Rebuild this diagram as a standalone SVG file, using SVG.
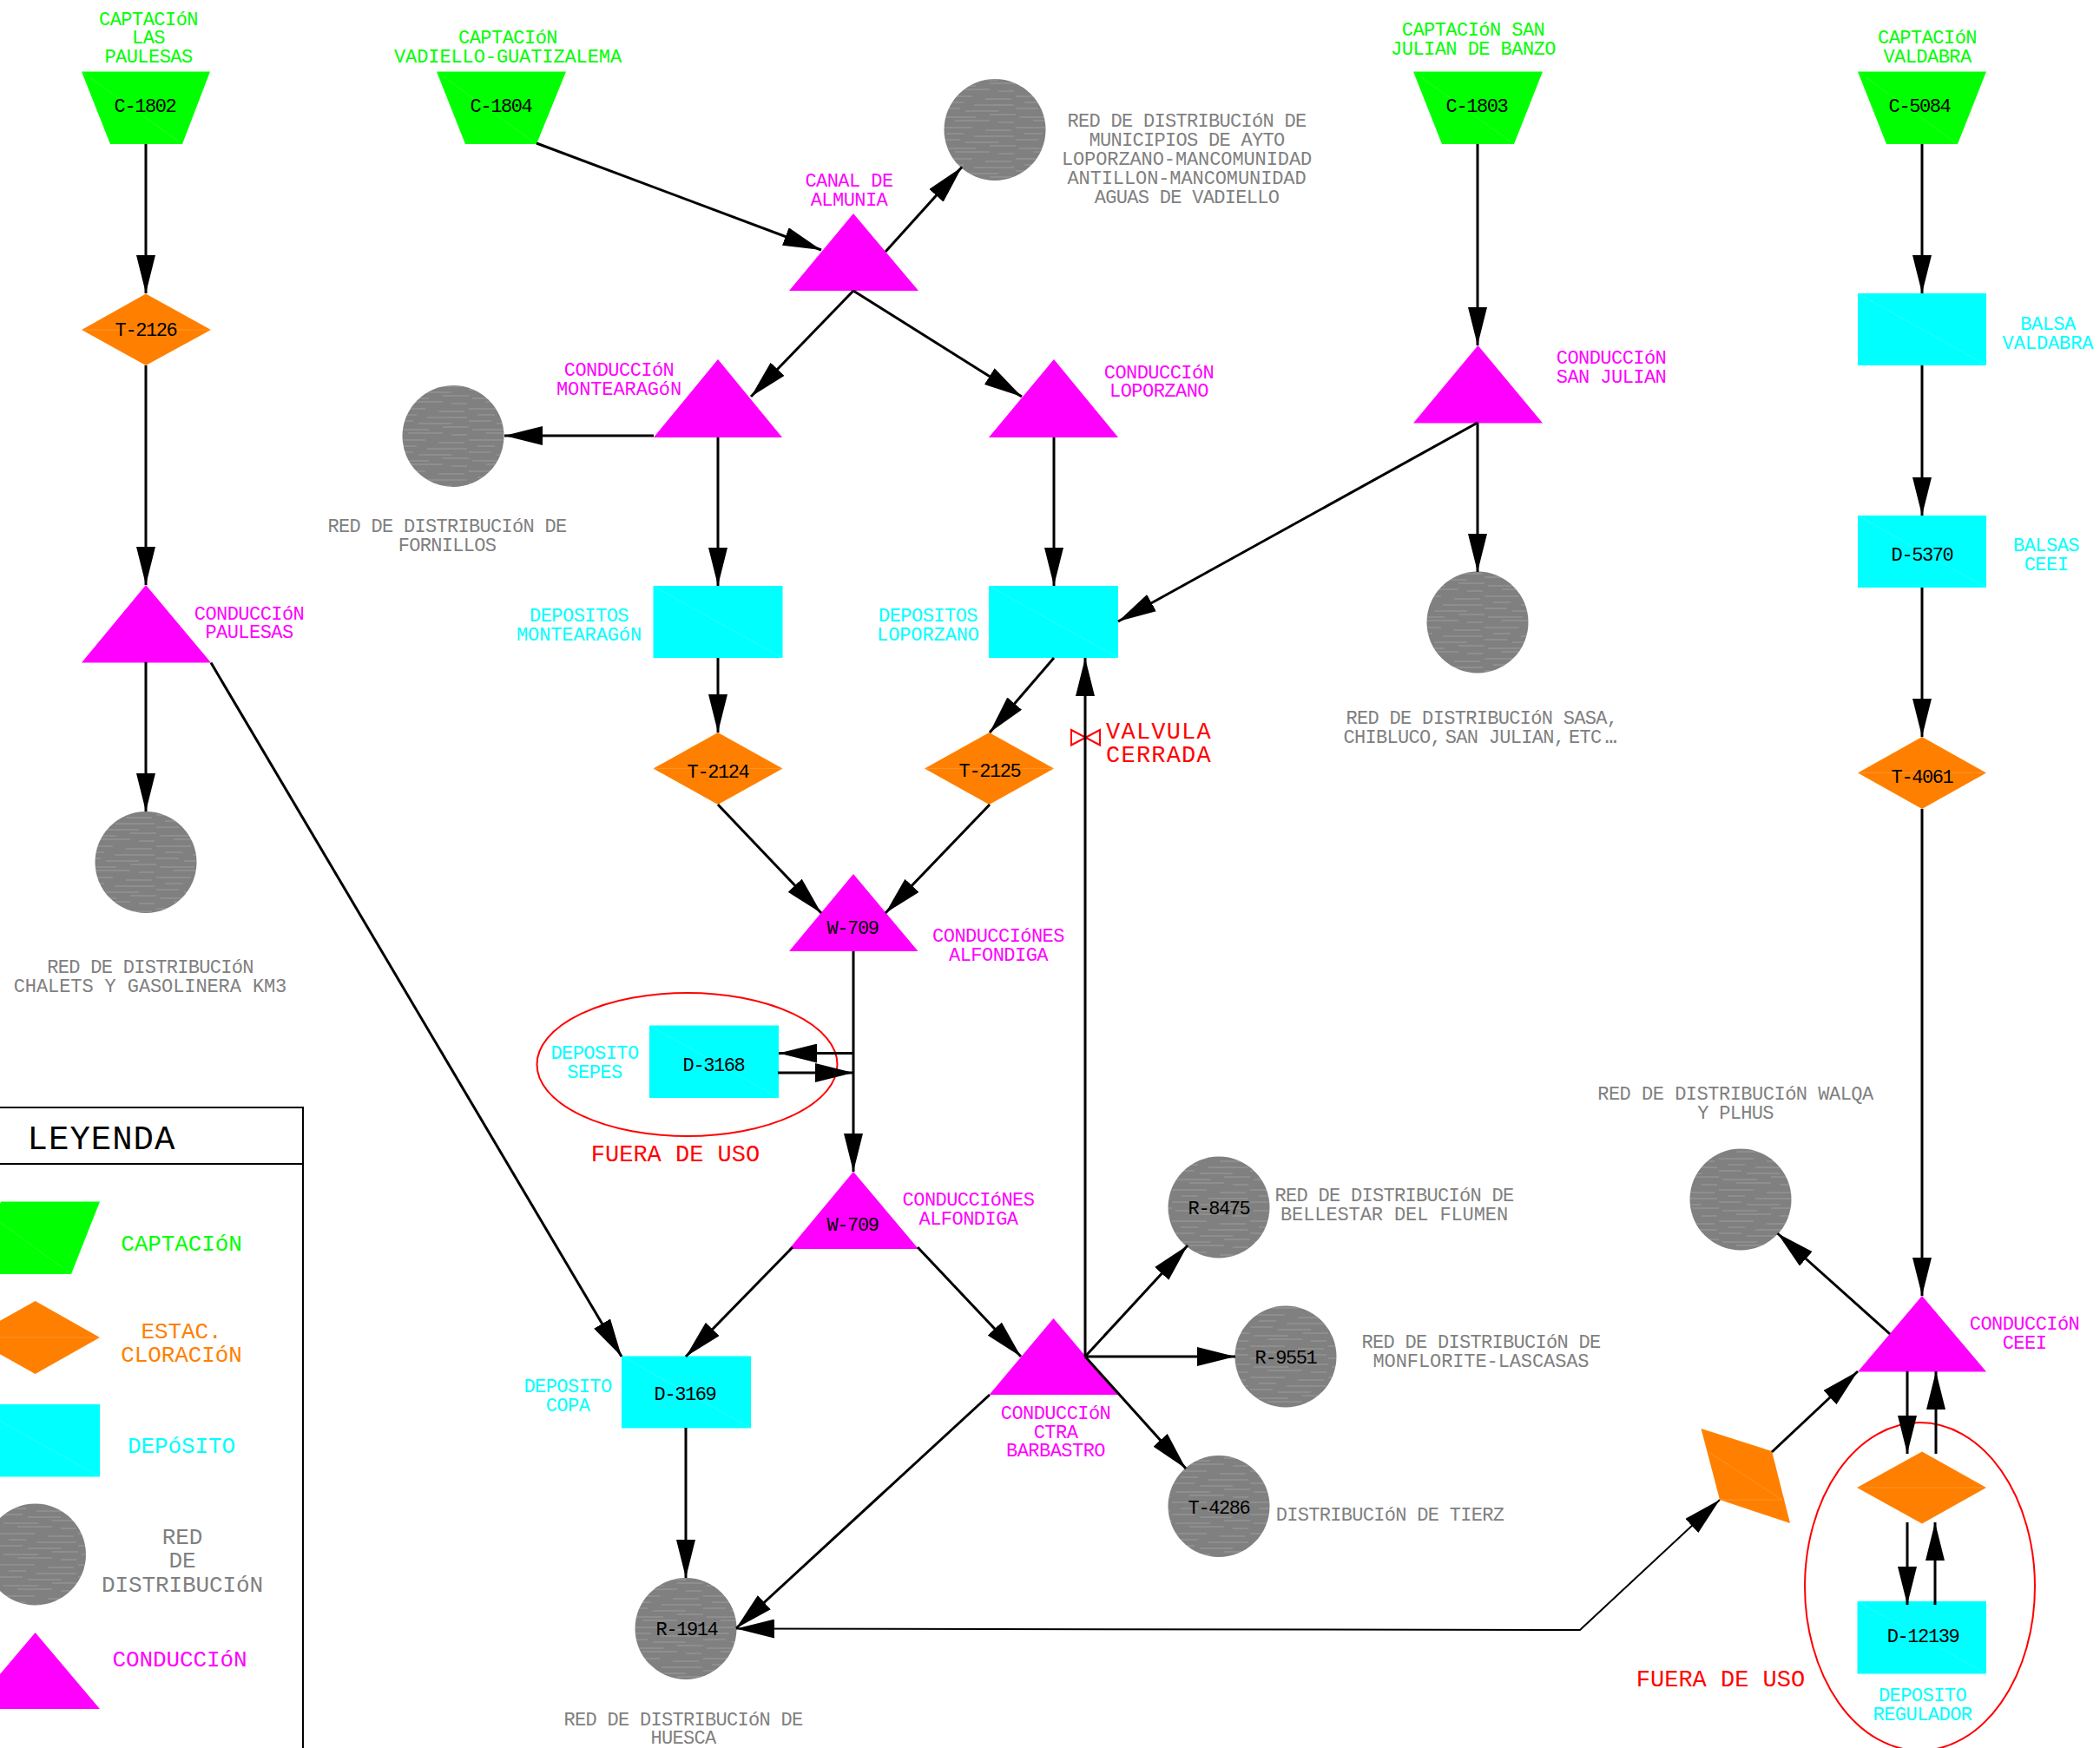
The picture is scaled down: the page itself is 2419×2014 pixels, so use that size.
<svg xmlns="http://www.w3.org/2000/svg" width="2419" height="2014" viewBox="0 0 2419 2014">
<style>
text{font-family:"Liberation Mono","DejaVu Sans Mono",monospace;font-size:22px;letter-spacing:-.55px;text-anchor:middle}
.lg{font-size:26px;letter-spacing:-.1px}
.big{font-size:27px;letter-spacing:1.2px}
.fu{font-size:27px;letter-spacing:0}
.g{fill:#00ff00}.o{fill:#ff8000}.c{fill:#00ffff}.m{fill:#ff00ff}.r{fill:#ff0000}.k{fill:#000;letter-spacing:-1.4px}.y{fill:#808080;letter-spacing:-.7px}
.lg.y{letter-spacing:-.1px}
text.w{letter-spacing:-.1px}
.h{fill:url(#hatch)}
.seam{stroke:#fff;stroke-opacity:.15;stroke-width:1;fill:none}
.tight{letter-spacing:-8.500px}
#connectors path{fill:none;stroke:#000;stroke-width:3;marker-end:url(#ah)}
#connectors path.t{stroke-width:2;marker-start:url(#ah)}
.ring{fill:none;stroke:#ff0000;stroke-width:2}
</style>
<defs>
<marker id="ah" markerUnits="userSpaceOnUse" markerWidth="44" markerHeight="22" viewBox="0 0 44 22" refX="44" refY="11" orient="auto-start-reverse"><path d="M0 0L44 11L0 22Z" fill="#000"/></marker>
<pattern id="hatch" patternUnits="userSpaceOnUse" width="90" height="36">
<rect width="90" height="36" fill="#808080"/>
<path d="M0 3H40M55 6H85M10 10H30M42 13H88M0 17H26M32 20H70M60 24H90M4 27H44M20 31H60M70 33H88" stroke="#9c9c9c" stroke-width="1" fill="none"/>
</pattern>
</defs>
<rect width="2419" height="2014" fill="#fff"/>

<g id="legend">
<path d="M0 1276H349V2014M0 1341H349" fill="none" stroke="#000" stroke-width="2"/>
<text x="117" y="1324" style="font-size:39px;letter-spacing:1px">LEYENDA</text>
<path class="g" d="M1 1384.5H115L82 1468H-34Z"/><path class="seam" d="M0 1408L82 1468"/>
<text class="g lg" x="209" y="1441">CAPTACIóN</text>
<path class="o" d="M40.6 1499L115 1541L40.6 1583L-34 1541Z"/><path class="seam" d="M0 1541H115"/>
<text class="o lg" x="209" y="1542">ESTAC.</text><text class="o lg" x="209" y="1569">CLORACIóN</text>
<rect class="c" x="-34" y="1618" width="149" height="83.5"/><path class="seam" d="M0 1637L115 1701.5"/>
<text class="c lg" x="209" y="1674">DEPóSITO</text>
<circle class="h" cx="40.6" cy="1791" r="58.4"/>
<text class="y lg" x="210" y="1779">RED</text><text class="y lg" x="210" y="1806">DE</text><text class="y lg" x="210" y="1834">DISTRIBUCIóN</text>
<path class="m" d="M40.6 1881L115 1969H-34Z"/>
<text class="m lg" x="207" y="1920">CONDUCCIóN</text>
</g>

<g id="n-c1802"><path class="g" d="M94 82.5H242L210 166H127Z"/><path class="seam" d="M94 82.5L210 166"/><text class="k" x="167" y="129">C-1802</text></g>
<g id="l-paulesas"><text class="g" x="171" y="29">CAPTACIóN</text><text class="g" x="171" y="50">LAS</text><text class="g" x="171" y="72">PAULESAS</text></g>
<g id="n-t2126"><path class="o" d="M168 338.5L243 380L168 421L94 380Z"/><path class="seam" d="M94 380H243"/><text class="k" x="168" y="387">T-2126</text></g>
<g id="n-paulesas"><path class="m" d="M168 674L243 763.6H94Z"/><text class="m" x="287" y="714">CONDUCCIóN</text><text class="m" x="287" y="735">PAULESAS</text></g>
<g id="n-red-chalets"><circle class="h" cx="168" cy="993.5" r="58.5"/><text class="y" x="173" y="1121">RED DE DISTRIBUCIóN</text><text class="y w" x="173" y="1143">CHALETS Y GASOLINERA KM3</text></g>

<g id="n-c1804"><path class="g" d="M503 82.5H652L618 166H536Z"/><path class="seam" d="M503 82.5L618 166"/><text class="k" x="577" y="129">C-1804</text>
<text class="g" x="585" y="50">CAPTACIóN</text><text class="g w" x="585" y="72">VADIELLO-GUATIZALEMA</text></g>
<g id="n-canal"><path class="m" d="M983 246L1058 335H909Z"/><text class="m" x="978" y="215">CANAL DE</text><text class="m" x="978" y="237">ALMUNIA</text></g>
<g id="n-red-municipios"><circle class="h" cx="1146" cy="149.5" r="58.5"/>
<text class="y" x="1367" y="146">RED DE DISTRIBUCIóN DE</text><text class="y" x="1367" y="168">MUNICIPIOS DE AYTO</text><text class="y w" x="1367" y="190">LOPORZANO-MANCOMUNIDAD</text><text class="y w" x="1367" y="212">ANTILLON-MANCOMUNIDAD</text><text class="y" x="1367" y="234">AGUAS DE VADIELLO</text></g>
<g id="n-montearagon"><path class="m" d="M827 414L901 504H753Z"/><text class="m" x="713" y="433">CONDUCCIóN</text><text class="m w" x="713" y="455">MONTEARAGóN</text></g>
<g id="n-red-fornillos"><circle class="h" cx="522" cy="502.5" r="58.5"/><text class="y" x="515" y="613">RED DE DISTRIBUCIóN DE</text><text class="y" x="515" y="635">FORNILLOS</text></g>
<g id="n-loporzano"><path class="m" d="M1214 414L1288 504H1139Z"/><text class="m" x="1335" y="436">CONDUCCIóN</text><text class="m" x="1335" y="457">LOPORZANO</text></g>
<g id="n-dep-montearagon"><rect class="c" x="752.500" y="675" width="149" height="83"/><path class="seam" d="M752 675L901 758"/><text class="c" x="667" y="716">DEPOSITOS</text><text class="c w" x="667" y="738">MONTEARAGóN</text></g>
<g id="n-dep-loporzano"><rect class="c" x="1139" y="675" width="149" height="83"/><path class="seam" d="M1139 675L1288 758"/><text class="c" x="1069" y="716">DEPOSITOS</text><text class="c w" x="1069" y="738">LOPORZANO</text></g>
<g id="n-t2124"><path class="o" d="M827 844L901.500 885.500L827 927L752.500 885.500Z"/><path class="seam" d="M752.500 885.500H901.500"/><text class="k" x="827" y="896">T-2124</text></g>
<g id="n-t2125"><path class="o" d="M1139.500 844L1214 885.500L1139.500 927L1065 885.500Z"/><path class="seam" d="M1065 885.500H1214"/><text class="k" x="1140" y="895">T-2125</text></g>
<g id="n-w709a"><path class="m" d="M983 1007L1057.500 1096H909Z"/><text class="k" x="982" y="1076">W-709</text><text class="m" x="1150" y="1085">CONDUCCIóNES</text><text class="m" x="1150" y="1107">ALFONDIGA</text></g>
<g id="n-d3168"><rect class="c" x="748" y="1181.500" width="149" height="83.500"/><path class="seam" d="M748 1181.500L897 1265"/><text class="k" x="822" y="1234">D-3168</text><text class="c" x="685" y="1220">DEPOSITO</text><text class="c" x="685" y="1242">SEPES</text></g>
<g id="n-fuera1"><ellipse class="ring" cx="791.500" cy="1226.500" rx="173" ry="82.500"/><text class="r fu" x="778" y="1338">FUERA DE USO</text></g>
<g id="n-valvula"><path d="M1234 841L1267 858.500V841L1234 858.500Z" fill="none" stroke="#ff0000" stroke-width="2"/><text class="r big" x="1335" y="851">VALVULA</text><text class="r big" x="1335" y="878">CERRADA</text></g>
<g id="n-w709b"><path class="m" d="M983 1350L1058 1439H909Z"/><text class="k" x="982" y="1418">W-709</text><text class="m" x="1115.500" y="1389">CONDUCCIóNES</text><text class="m" x="1115.500" y="1411">ALFONDIGA</text></g>
<g id="n-d3169"><rect class="c" x="716" y="1562.500" width="149" height="83"/><path class="seam" d="M716 1562.500L865 1645.500"/><text class="k" x="789" y="1613">D-3169</text><text class="c" x="654" y="1604">DEPOSITO</text><text class="c" x="654" y="1626">COPA</text></g>
<g id="n-ctra"><path class="m" d="M1213.500 1519L1288 1607H1139.500Z"/><text class="m" x="1216" y="1635">CONDUCCIóN</text><text class="m" x="1216" y="1657">CTRA</text><text class="m" x="1216" y="1678">BARBASTRO</text></g>
<g id="n-r8475"><circle class="h" cx="1404" cy="1391" r="58.500"/><text class="k" x="1404" y="1399">R-8475</text><text class="y" x="1606" y="1384">RED DE DISTRIBUCIóN DE</text><text class="y w" x="1606" y="1406">BELLESTAR DEL FLUMEN</text></g>
<g id="n-r9551"><circle class="h" cx="1481" cy="1563" r="58.500"/><text class="k" x="1481" y="1571">R-9551</text><text class="y" x="1706" y="1553">RED DE DISTRIBUCIóN DE</text><text class="y w" x="1706" y="1575">MONFLORITE-LASCASAS</text></g>
<g id="n-t4286"><circle class="h" cx="1404" cy="1735.500" r="58.500"/><text class="k" x="1404" y="1744">T-4286</text><text class="y" x="1601" y="1752">DISTRIBUCIóN DE TIERZ</text></g>
<g id="n-r1914"><circle class="h" cx="790" cy="1876.500" r="58.500"/><text class="k" x="791" y="1884">R-1914</text><text class="y" x="787" y="1988">RED DE DISTRIBUCIóN DE</text><text class="y" x="787" y="2009">HUESCA</text></g>

<g id="n-c1803"><path class="g" d="M1628 82.5H1777L1744 166H1661Z"/><path class="seam" d="M1628 82.5L1744 166"/><text class="k" x="1701" y="129">C-1803</text><text class="g" x="1697" y="41">CAPTACIóN SAN</text><text class="g" x="1697" y="63">JULIAN DE BANZO</text></g>
<g id="n-sanjulian"><path class="m" d="M1702.500 398L1777 487.500H1628Z"/><text class="m" x="1856" y="419">CONDUCCIóN</text><text class="m" x="1856" y="441">SAN JULIAN</text></g>
<g id="n-red-sasa"><circle class="h" cx="1702" cy="717" r="58.500"/><text class="y" x="1703" y="834">RED DE DISTRIBUCIóN SASA<tspan class="tight">,</tspan></text><text class="y" x="1703" y="856">CHIBLUCO<tspan class="tight">,</tspan> SAN JULIAN<tspan class="tight">,</tspan> ETC<tspan class="tight">...</tspan></text></g>

<g id="n-c5084"><path class="g" d="M2140 82.5H2288L2255 166H2173Z"/><path class="seam" d="M2140 82.5L2255 166"/><text class="k" x="2211" y="129">C-5084</text><text class="g" x="2220" y="50">CAPTACIóN</text><text class="g" x="2220" y="72">VALDABRA</text></g>
<g id="n-balsa"><rect class="c" x="2140" y="338" width="148" height="83"/><path class="seam" d="M2140 338L2288 421"/><text class="c" x="2359" y="380">BALSA</text><text class="c w" x="2359" y="402">VALDABRA</text></g>
<g id="n-d5370"><rect class="c" x="2140" y="594" width="148" height="83"/><path class="seam" d="M2140 594L2288 677"/><text class="k" x="2214" y="646">D-5370</text><text class="c" x="2357" y="635">BALSAS</text><text class="c" x="2357" y="657">CEEI</text></g>
<g id="n-t4061"><path class="o" d="M2214 849L2288 890.500L2214 932L2140 890.500Z"/><path class="seam" d="M2140 890.500H2288"/><text class="k" x="2214" y="902">T-4061</text></g>
<g id="n-red-walqa"><circle class="h" cx="2005" cy="1382" r="58.500"/><text class="y" x="1999" y="1267" style="letter-spacing:-.5px">RED DE DISTRIBUCIóN WALQA</text><text class="y" x="1999" y="1289">Y PLHUS</text></g>
<g id="n-ceei"><path class="m" d="M2214 1493L2288 1580.500H2140Z"/><text class="m" x="2332" y="1532">CONDUCCIóN</text><text class="m" x="2332" y="1554">CEEI</text></g>
<g id="n-rombo"><path class="o" d="M1959.500 1646L2041 1672L2062 1755L1981 1728Z"/><path class="seam" d="M1968 1673L2053 1728H1981"/></g>
<g id="n-dep-regulador"><path class="o" d="M2214 1672.500L2288 1714L2214 1755.500L2139 1714Z"/><path class="seam" d="M2139 1714H2288"/><rect class="c" x="2139.500" y="1845" width="148.500" height="83.500"/><path class="seam" d="M2139.500 1845L2288 1928.500"/><text class="k" x="2215" y="1892">D-12139</text><text class="c" x="2214.500" y="1960">DEPOSITO</text><text class="c" x="2214.500" y="1982">REGULADOR</text></g>
<g id="n-fuera2"><ellipse class="ring" cx="2211.500" cy="1828" rx="132.500" ry="189"/><text class="r fu" x="1982" y="1943">FUERA DE USO</text></g>

<g id="connectors">
<path d="M168 166V338"/>
<path d="M168 421V674"/>
<path d="M168 763V935"/>
<path d="M243 763.600L716 1563"/>
<path d="M618 165L946 288"/>
<path d="M1020 290L1108 192.600"/>
<path d="M983 335L865 457"/>
<path d="M983 335L1177 457"/>
<path d="M753 502H581"/>
<path d="M827 504V675"/>
<path d="M1214 504V675"/>
<path d="M827 758V844"/>
<path d="M1214 758L1140 844"/>
<path d="M827 927L946 1052"/>
<path d="M1140 927L1020 1052"/>
<path d="M983 1096V1350"/>
<path d="M983 1213.600H897"/>
<path d="M896 1236H983"/>
<path d="M913 1437L790 1563"/>
<path d="M1057 1437L1176 1563"/>
<path d="M1250 1563V758"/>
<path d="M1250 1563L1368 1435"/>
<path d="M1250 1563H1423"/>
<path d="M1250 1563L1366 1692"/>
<path d="M1140 1607L848 1876"/>
<path d="M790 1645V1818"/>
<path class="t" d="M848 1876.500L1820 1878L1981 1728"/>
<path d="M2041 1673L2140 1580"/>
<path d="M2177 1537L2047.500 1421"/>
<path d="M1702 166V398"/>
<path d="M1702 487L1288 716"/>
<path d="M1702 487V659"/>
<path d="M2214 166V338"/>
<path d="M2214 421V594"/>
<path d="M2214 677V849"/>
<path d="M2214 932V1493"/>
<path d="M2197 1580V1675"/>
<path d="M2230 1675V1580"/>
<path d="M2197 1754V1849"/>
<path d="M2229 1849V1754"/>
</g>
</svg>
